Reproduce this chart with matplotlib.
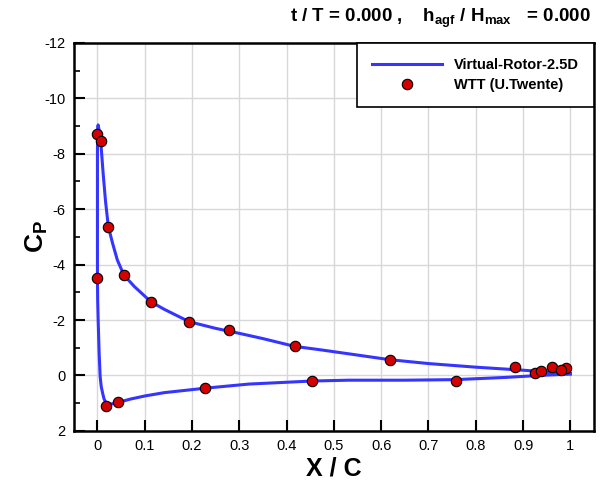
import matplotlib
matplotlib.use("Agg")
import matplotlib.pyplot as plt
from matplotlib.ticker import MultipleLocator

# ---------------- data ----------------
# CFD surface pressure, one closed path: upper surface from TE to LE, then lower surface back to TE
cfd_x = [1.000, 0.950, 0.900, 0.800, 0.700, 0.618, 0.532, 0.470, 0.417, 0.350,
         0.300, 0.250, 0.194, 0.141, 0.113, 0.078, 0.056, 0.042, 0.032, 0.023,
         0.017, 0.012, 0.007, 0.004, 0.0015, 0.0005, 0.000, 0.000, 0.000, 0.0005,
         0.0015, 0.0036, 0.0057, 0.008, 0.011, 0.014, 0.018, 0.022, 0.028, 0.035,
         0.042, 0.070, 0.100, 0.141, 0.227, 0.320, 0.454, 0.532, 0.650, 0.757,
         0.863, 0.933, 1.000]
cfd_cp = [-0.07, -0.13, -0.19, -0.30, -0.43, -0.57, -0.78, -0.93, -1.05, -1.33,
          -1.52, -1.70, -1.94, -2.39, -2.66, -3.21, -3.62, -4.17, -4.77, -5.37,
          -6.30, -7.30, -8.44, -8.80, -9.04, -8.95, -8.00, -5.00, -3.50, -2.70,
          -2.00, -0.80, 0.04, 0.40, 0.64, 0.85, 0.98, 1.02, 1.03, 1.01,
          0.98, 0.85, 0.74, 0.62, 0.46, 0.31, 0.20, 0.17, 0.17, 0.15,
          0.07, 0.00, -0.05]

# wind tunnel measurements
wtt_x = [0.000, 0.008, 0.023, 0.000, 0.057, 0.114, 0.194, 0.278, 0.418, 0.619,
         0.882, 0.961, 0.991, 0.018, 0.044, 0.227, 0.454, 0.758, 0.926, 0.938, 0.980]
wtt_cp = [-8.73, -8.46, -5.35, -3.53, -3.62, -2.65, -1.94, -1.63, -1.05, -0.56,
          -0.30, -0.31, -0.28, 1.09, 0.97, 0.46, 0.19, 0.19, -0.10, -0.15, -0.20]

x_ticks = [0, 0.1, 0.2, 0.3, 0.4, 0.5, 0.6, 0.7, 0.8, 0.9, 1]
x_labels = ["0", "0.1", "0.2", "0.3", "0.4", "0.5", "0.6", "0.7", "0.8", "0.9", "1"]

# ---------------- style ----------------
plt.rcParams["font.family"] = ["Liberation Sans", "DejaVu Sans"]
plt.rcParams["axes.unicode_minus"] = False
plt.rcParams["mathtext.fontset"] = "custom"
plt.rcParams["mathtext.rm"] = "Liberation Sans:bold"
plt.rcParams["mathtext.bf"] = "Liberation Sans:bold"
plt.rcParams["mathtext.it"] = "Liberation Sans:bold"

fig = plt.figure(figsize=(6, 4.82), dpi=100)
ax = fig.add_axes([0.123, 0.106, 0.867, 0.805])

ax.plot(cfd_x, cfd_cp, color="#3535ff", lw=2.2, label="Virtual-Rotor-2.5D", zorder=3,
        solid_joinstyle="round")
ax.plot(wtt_x, wtt_cp, ls="none", marker="o", ms=7.5, mfc="#d40000", mec="black",
        mew=0.8, label="WTT (U.Twente)", zorder=4)

ax.set_xlim(-0.05, 1.05)
ax.set_ylim(2, -12)
ax.set_xticks(x_ticks)
ax.set_xticklabels(x_labels)
ax.yaxis.set_major_locator(MultipleLocator(2))
ax.yaxis.set_minor_locator(MultipleLocator(1))

ax.grid(True, which="major", color="#d8d8d8", lw=1.0, zorder=0)
ax.set_axisbelow(True)

for s in ax.spines.values():
    s.set_linewidth(1.8)
ax.tick_params(which="major", direction="in", length=8, width=1.5, labelsize=10.5, pad=6)
ax.tick_params(which="minor", direction="in", length=4, width=1.2)

ax.set_xlabel("X / C", fontsize=18, fontweight="bold", labelpad=2)
ax.set_ylabel(r"C$_\mathbf{P}$", fontsize=19, fontweight="bold", labelpad=-4)

fig.text(0.985, 0.962, r"t / T = 0.000 ,    h$_\mathbf{agf}$ / H$_\mathbf{max}$   = 0.000",
         ha="right", va="center", fontsize=13.5, fontweight="bold")

leg = ax.legend(loc="upper right", bbox_to_anchor=(1, 1), borderaxespad=0,
                fancybox=False, framealpha=1, edgecolor="black", numpoints=1,
                handlelength=4.8, borderpad=1.05, labelspacing=0.4,
                prop={"weight": "bold", "size": 10.5})
leg.get_frame().set_linewidth(1.2)

fig.savefig("out.png", dpi=100)
